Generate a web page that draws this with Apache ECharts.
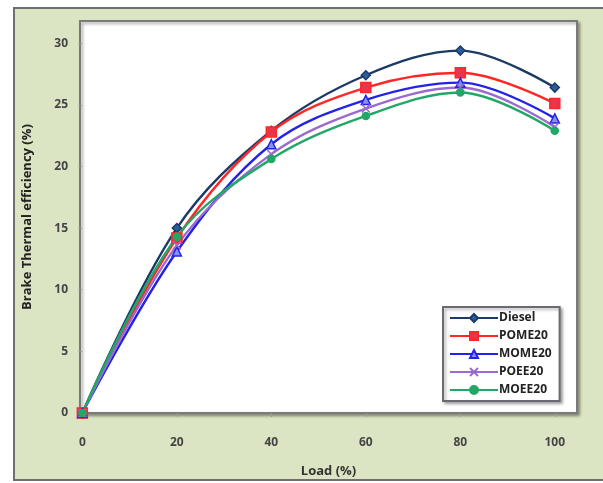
<!DOCTYPE html>
<html>
<head>
<meta charset="utf-8">
<script src="https://cdn.jsdelivr.net/npm/echarts@6/dist/echarts.min.js"></script>
<style>
  html, body { margin: 0; padding: 0; background: #fff; }
  #chart { width: 603px; height: 483px; }
</style>
</head>
<body>
<div id="chart"></div>
<script>
// load values (%)
var loads = [0, 20, 40, 60, 80, 100];
// brake thermal efficiency (%) per fuel
var diesel = [0, 15.0, 22.9, 27.4, 29.4, 26.4];
var pome20 = [0, 14.2, 22.8, 26.4, 27.6, 25.1];
var mome20 = [0, 13.1, 21.8, 25.4, 26.8, 23.9];
var poee20 = [0, 13.6, 21.0, 24.7, 26.4, 23.2];
var moee20 = [0, 14.3, 20.6, 24.1, 26.0, 22.9];
var yTicks = [0, 5, 10, 15, 20, 25, 30];
var xTicks = [0, 20, 40, 60, 80, 100];

var myChart = echarts.init(document.getElementById('chart'));

function pairs(vals) {
  return loads.map(function (x, i) { return [x, vals[i]]; });
}

function makeSeries(name, vals, color, symbol, size, fill) {
  return {
    name: name,
    type: 'line',
    smooth: 0.35,
    data: pairs(vals),
    symbol: symbol,
    symbolSize: size,
    lineStyle: { color: color, width: 2.4 },
    itemStyle: { color: fill, borderColor: color, borderWidth: 1.5 },
    emphasis: { disabled: true }
  };
}

var option = {
  animation: false,
  backgroundColor: '#ffffff',
  graphic: [{
    type: 'rect',
    z: -10,
    shape: { x: 14, y: 8, width: 600, height: 472 },
    style: { fill: '#dce5c3', stroke: '#6e6e6e', lineWidth: 2 }
  }],
  grid: {
    left: 80, top: 21, right: 26, bottom: 70,
    show: true,
    backgroundColor: '#ffffff',
    borderColor: '#7a7a7a',
    borderWidth: 2,
    shadowColor: 'rgba(0,0,0,0.35)',
    shadowBlur: 3,
    shadowOffsetX: 2,
    shadowOffsetY: 2
  },
  legend: {
    orient: 'vertical',
    left: 443, top: 307,
    itemWidth: 48, itemHeight: 10, itemGap: 6,
    padding: [5, 8, 5, 6],
    backgroundColor: '#ffffff',
    borderColor: '#6a6a72',
    borderWidth: 2,
    shadowColor: 'rgba(0,0,0,0.3)',
    shadowBlur: 3,
    shadowOffsetX: 2,
    shadowOffsetY: 2,
    textStyle: { fontFamily: 'Open Sans', fontSize: 12, fontWeight: 'bold', color: '#222', padding: [0, 0, 0, -4] }
  },
  xAxis: {
    type: 'value',
    min: -0.5, max: 104.7,
    name: 'Load (%)',
    nameLocation: 'middle',
    nameGap: 52,
    nameTextStyle: { fontFamily: 'Open Sans', fontSize: 13, fontWeight: 'bold', color: '#333' },
    splitLine: { show: false },
    axisLine: { show: false },
    axisTick: { show: true, inside: false, length: 4, customValues: xTicks, lineStyle: { color: '#999' } },
    axisLabel: { customValues: xTicks, margin: 24, fontFamily: 'Open Sans', fontSize: 12, fontWeight: 'bold', color: '#444' }
  },
  yAxis: {
    type: 'value',
    min: 0, max: 31.8,
    name: 'Brake Thermal efficiency (%)',
    nameLocation: 'middle',
    nameGap: 46,
    nameTextStyle: { fontFamily: 'Open Sans', fontSize: 13, fontWeight: 'bold', color: '#222' },
    splitLine: { show: false },
    axisLine: { show: false },
    axisTick: { show: true, length: 4, customValues: yTicks, lineStyle: { color: '#999' } },
    axisLabel: { customValues: yTicks, margin: 12, fontFamily: 'Open Sans', fontSize: 12, fontWeight: 'bold', color: '#444' }
  },
  series: [
    makeSeries('Diesel', diesel, '#1c3a66', 'diamond', 9, '#2a5e9e'),
    makeSeries('POME20', pome20, '#ff2626', 'rect', 10, '#e8354a'),
    makeSeries('MOME20', mome20, '#2323e6', 'triangle', 9, '#8a8ff0'),
    makeSeries('POEE20', poee20, '#9a6ad0', 'path://M0,0 L10,10 M10,0 L0,10', 8, '#9a6ad0'),
    makeSeries('MOEE20', moee20, '#21a866', 'circle', 7, '#21a866')
  ]
};

myChart.setOption(option);
</script>
</body>
</html>
